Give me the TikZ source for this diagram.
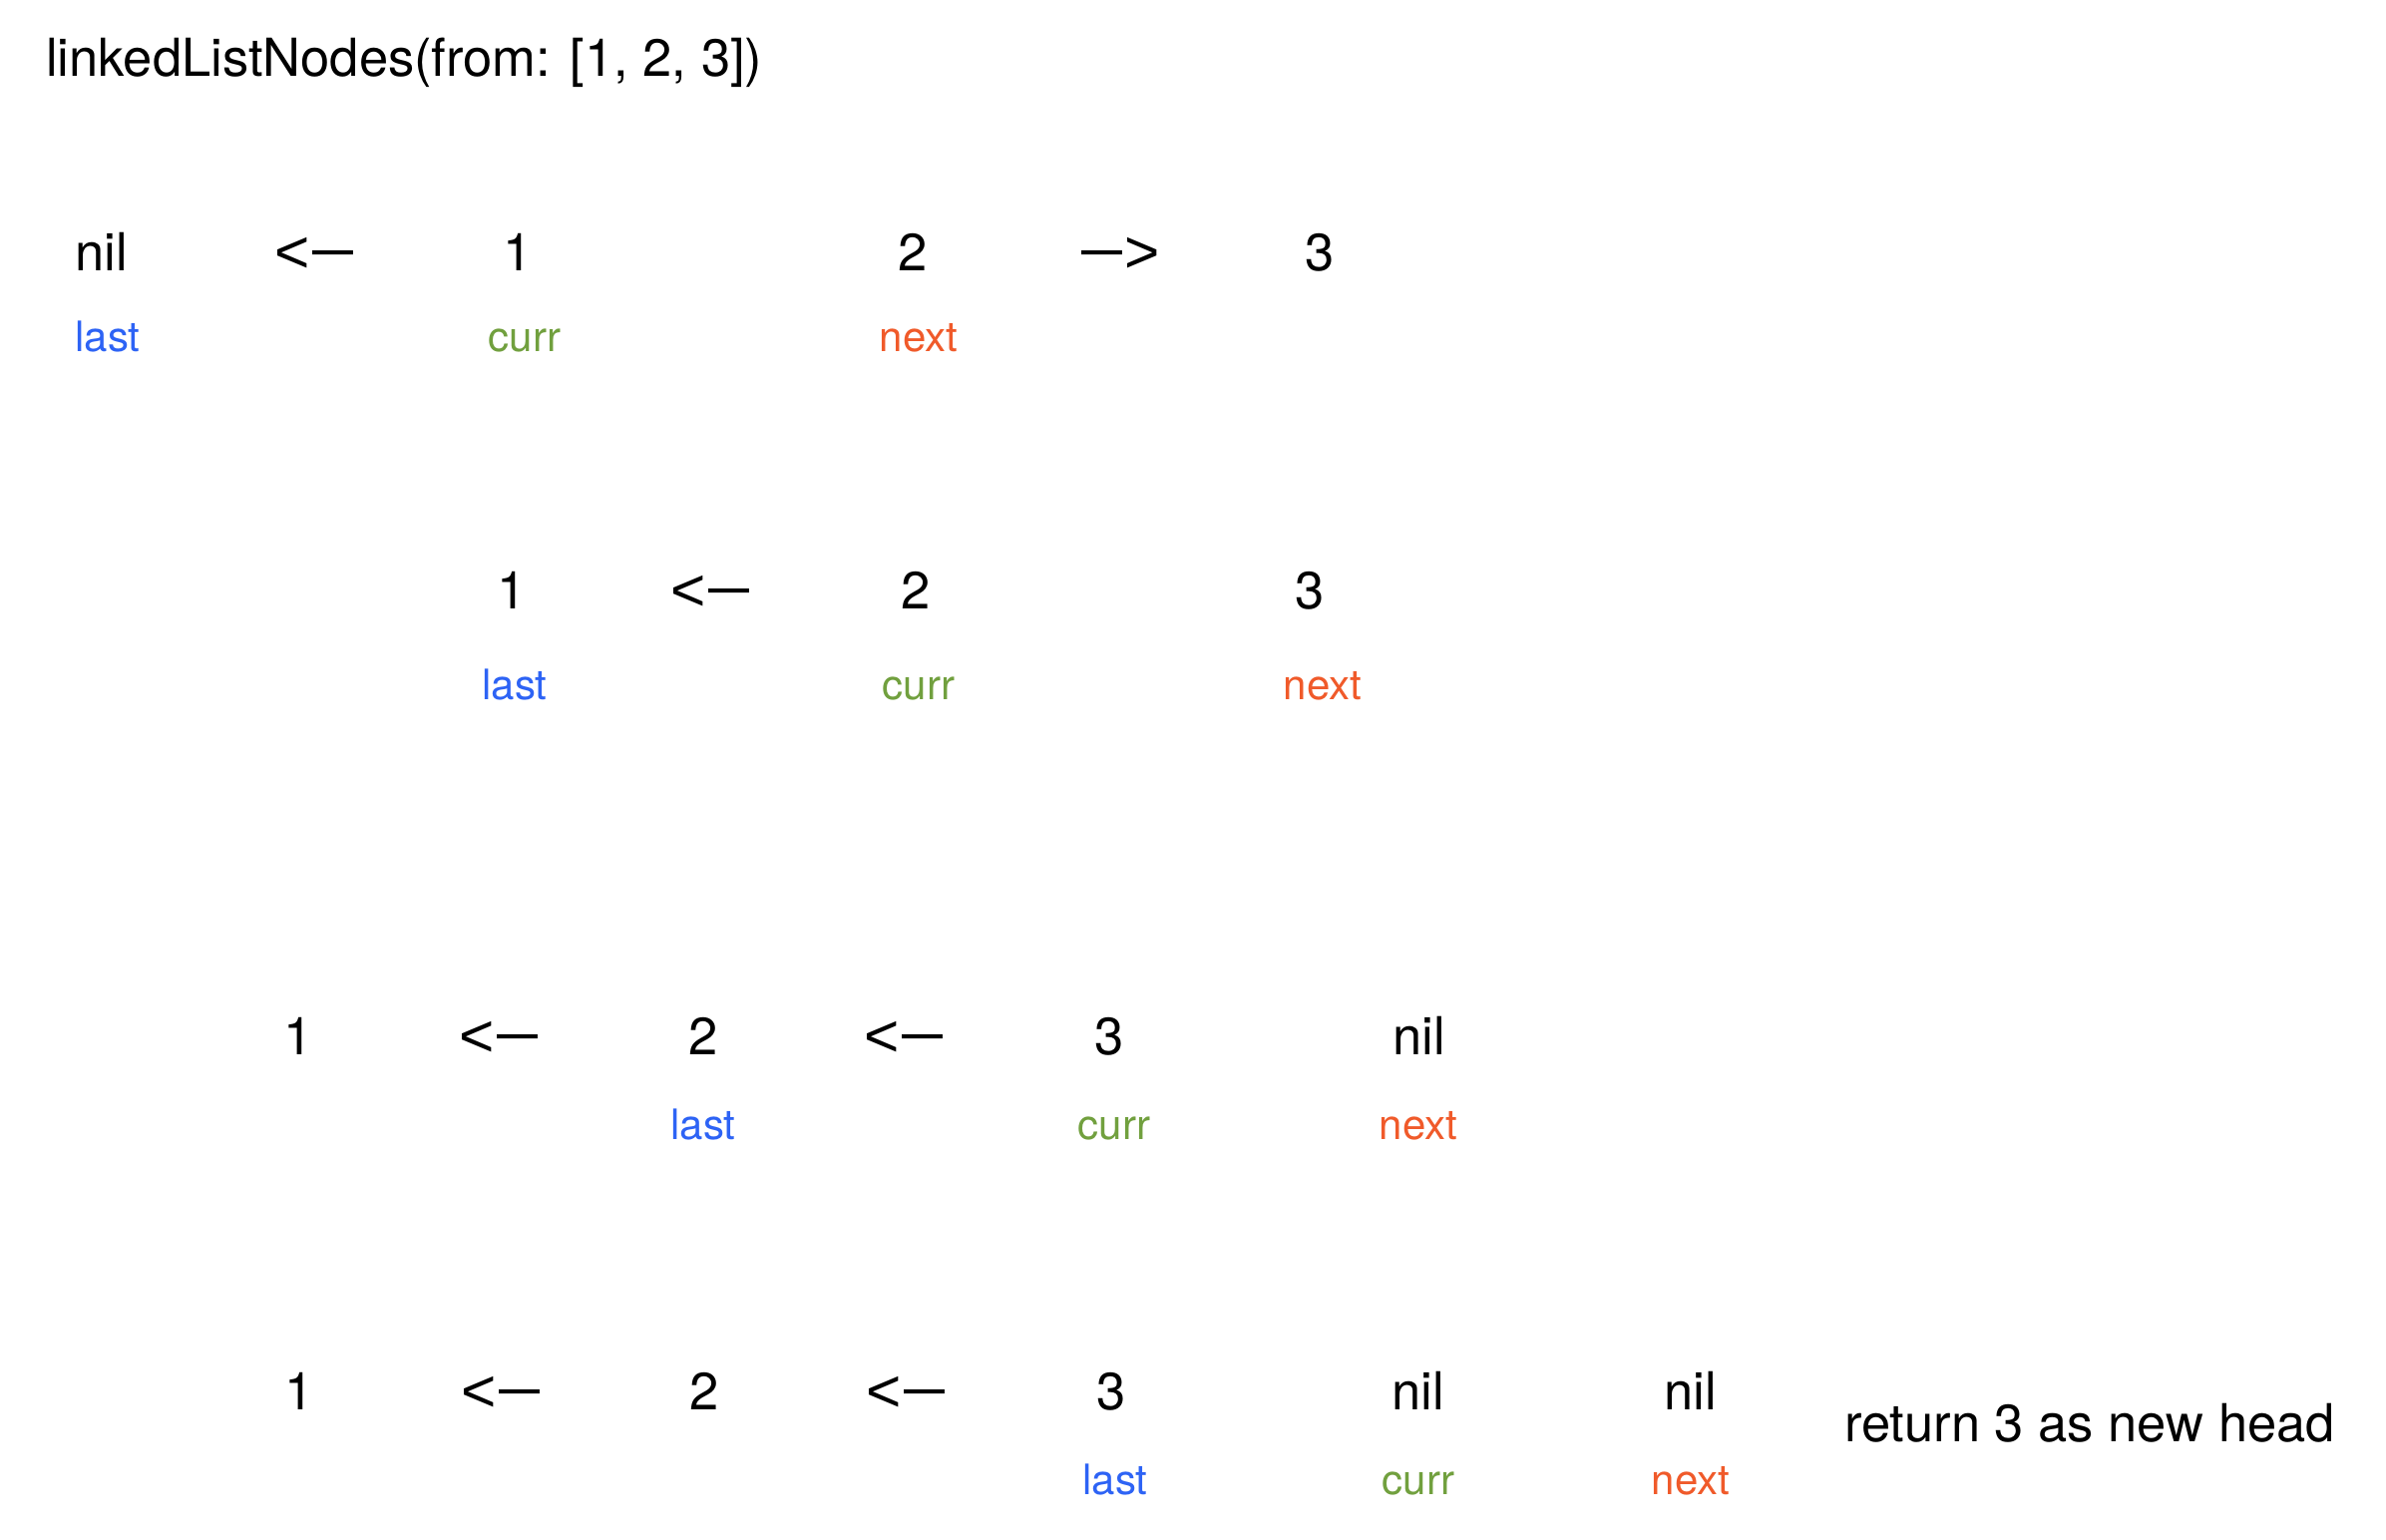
\documentclass[tikz,border=0pt]{standalone}
\usepackage{fontspec}
\setmainfont{TeX Gyre Heros}
\newfontfamily\arrowfont{Liberation Sans}
\definecolor{lastc}{HTML}{2D63F5}
\definecolor{currc}{HTML}{71A03E}
\definecolor{nextc}{HTML}{F05A2A}
\newcommand\myless{\raisebox{-2pt}{\scalebox{1.15}{\arrowfont <}}}
\newcommand\mygreater{\raisebox{-2pt}{\scalebox{1.15}{\arrowfont >}}}
\newcommand\mydash{\raisebox{2pt}{\scalebox{0.78}[1.1]{—}}}
\newcommand\larrow{\myless\kern2pt\mydash}
\newcommand\rarrow{\mydash\kern2pt\mygreater}
\tikzset{
  val/.style={anchor=base, inner sep=0pt, font=\fontsize{52.5}{60}\selectfont},
  lbl/.style={anchor=base, inner sep=0pt, font=\fontsize{42}{50}\selectfont},
  lastlbl/.style={lbl, text=lastc},
  currlbl/.style={lbl, text=currc},
  nextlbl/.style={lbl, text=nextc},
}
\begin{document}
\begin{tikzpicture}[x=1pt,y=-1pt]
\path[use as bounding box, fill=white] (0,0) rectangle (2392,1543);
% title
\node[val, anchor=base west] (title) at (46,76) {linkedListNodes(from: [1, 2, 3])};
% row 1
\node[val] (r1nil) at (102,271) {nil};
\node[val] (r1a) at (315,271) {\larrow};
\node[val] (r1one) at (519,271) {1};
\node[val] (r1two) at (915,271) {2};
\node[val] (r1b) at (1124,271) {\rarrow};
\node[val] (r1three) at (1323,271) {3};
\node[lastlbl] (r1last) at (108,352) {last};
\node[currlbl] (r1curr) at (526,352) {curr};
\node[nextlbl] (r1next) at (921,352) {next};
% row 2
\node[val] (r2one) at (513,610) {1};
\node[val] (r2a) at (712,610) {\larrow};
\node[val] (r2two) at (918,610) {2};
\node[val] (r2three) at (1313,610) {3};
\node[lastlbl] (r2last) at (516,701) {last};
\node[currlbl] (r2curr) at (921,701) {curr};
\node[nextlbl] (r2next) at (1326,701) {next};
% row 3
\node[val] (r3one) at (299,1057) {1};
\node[val] (r3a) at (500,1057) {\larrow};
\node[val] (r3two) at (705,1057) {2};
\node[val] (r3b) at (906,1057) {\larrow};
\node[val] (r3three) at (1112,1057) {3};
\node[val] (r3nil) at (1423,1057) {nil};
\node[lastlbl] (r3last) at (705,1142) {last};
\node[currlbl] (r3curr) at (1117,1142) {curr};
\node[nextlbl] (r3next) at (1422,1142) {next};
% row 4
\node[val] (r4one) at (300,1413) {1};
\node[val] (r4a) at (502,1413) {\larrow};
\node[val] (r4two) at (706,1413) {2};
\node[val] (r4b) at (908,1413) {\larrow};
\node[val] (r4three) at (1114,1413) {3};
\node[val] (r4nil) at (1422,1413) {nil};
\node[val] (r4nilb) at (1695,1413) {nil};
\node[lastlbl] (r4last) at (1118,1498) {last};
\node[currlbl] (r4curr) at (1422,1498) {curr};
\node[nextlbl] (r4next) at (1695,1498) {next};
\node[val, anchor=base west] (ret) at (1849,1445) {return 3 as new head};
\end{tikzpicture}
\end{document}
